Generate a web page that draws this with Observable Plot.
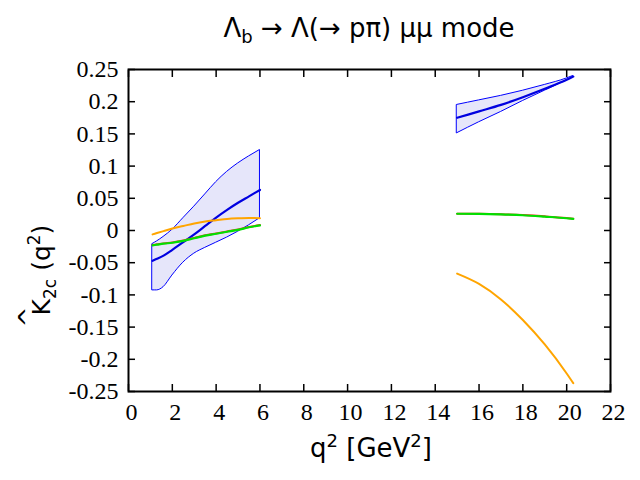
<!DOCTYPE html>
<html><head><meta charset="utf-8">
<script src="https://cdn.jsdelivr.net/npm/d3@7"></script>
<script src="https://cdn.jsdelivr.net/npm/@observablehq/plot@0.6"></script>
<style>body{margin:0;background:#fff}</style>
</head><body><div id="chart"></div>
<script>
// tick labels
const xTicks = [0, 2, 4, 6, 8, 10, 12, 14, 16, 18, 20, 22];
const yTicks = [-0.25, -0.2, -0.15, -0.1, -0.05, 0, 0.05, 0.1, 0.15, 0.2, 0.25];

// low q^2 bin
const xLow       = [1.1, 1.3, 1.6, 2, 2.5, 3, 3.5, 4, 4.5, 5, 5.5, 6];
const centralLow = [-0.047, -0.044, -0.039, -0.030, -0.018, -0.006, 0.007, 0.020, 0.032, 0.043, 0.053, 0.063];
const upperLow   = [-0.021, -0.017, -0.010, 0.001, 0.019, 0.037, 0.056, 0.075, 0.091, 0.104, 0.115, 0.125];
const lowerLow   = [-0.093, -0.093, -0.088, -0.070, -0.050, -0.036, -0.027, -0.019, -0.011, -0.002, 0.008, 0.019];
const orangeLow  = [-0.006, -0.004, -0.001, 0.003, 0.007, 0.011, 0.014, 0.016, 0.018, 0.019, 0.0195, 0.019];
const greenLow   = [-0.023, -0.022, -0.0205, -0.019, -0.016, -0.012, -0.008, -0.005, -0.002, 0.001, 0.005, 0.008];
const redLow     = [-0.0225, -0.0215, -0.020, -0.0185, -0.0155, -0.0115, -0.0075, -0.0045, -0.0015, 0.0015, 0.0055, 0.0085];

// high q^2 bin
const xHigh       = [15, 16, 17, 18, 19, 20, 20.3];
const centralHigh = [0.175, 0.185, 0.195, 0.207, 0.220, 0.234, 0.239];
const upperHigh   = [0.195, 0.202, 0.209, 0.217, 0.226, 0.236, 0.240];
const lowerHigh   = [0.151, 0.168, 0.184, 0.201, 0.217, 0.233, 0.238];
const orangeHigh  = [-0.067, -0.083, -0.107, -0.139, -0.177, -0.222, -0.237];
const greenHigh   = [0.026, 0.0258, 0.025, 0.0237, 0.0215, 0.0190, 0.018];
const redHigh     = [0.0262, 0.026, 0.0253, 0.024, 0.022, 0.0193, 0.0182];

const build = (xs, c, u, l, o, g, r) => xs.map((q, i) => ({q, c: c[i], hi: u[i], lo: l[i], o: o[i], g: g[i], r: r[i]}));
const low = build(xLow, centralLow, upperLow, lowerLow, orangeLow, greenLow, redLow);
const high = build(xHigh, centralHigh, upperHigh, lowerHigh, orangeHigh, greenHigh, redHigh);

const fmtY = d => String(+d.toFixed(2));
const curve = "monotone-x";
const serif = "Liberation Serif";
const sans = "DejaVu Sans";
const xMin = xTicks[0], yMin = yTicks[0];

const seriesMarks = data => [
  Plot.areaY(data, {x: "q", y1: "lo", y2: "hi", fill: "#e6e6fa", stroke: "#0000ff", strokeWidth: 1, curve}),
  Plot.lineY(data, {x: "q", y: "c", stroke: "#0000e0", strokeWidth: 2.2, curve}),
  Plot.lineY(data, {x: "q", y: "o", stroke: "#ffa500", strokeWidth: 2, curve}),
  Plot.lineY(data, {x: "q", y: "r", stroke: "#ff3030", strokeWidth: 2, curve}),
  Plot.lineY(data, {x: "q", y: "g", stroke: "#00e000", strokeWidth: 2.2, curve})
];

const chart = Plot.plot({
  width: 640,
  height: 480,
  marginLeft: 128,
  marginRight: 30,
  marginTop: 69,
  marginBottom: 89,
  x: {domain: [0, 22]},
  y: {domain: [-0.25, 0.25]},
  style: {background: "white"},
  marks: [
    ...seriesMarks(low),
    ...seriesMarks(high),
    // inward ticks on all four sides
    Plot.axisX(xTicks, {anchor: "bottom", tickSize: -7, tickFormat: () => "", label: null, strokeWidth: 1.5}),
    Plot.axisX(xTicks, {anchor: "top", tickSize: -7, tickFormat: () => "", label: null, strokeWidth: 1.5}),
    Plot.axisY(yTicks, {anchor: "left", tickSize: -7, tickFormat: () => "", label: null, strokeWidth: 1.5}),
    Plot.axisY(yTicks, {anchor: "right", tickSize: -7, tickFormat: () => "", label: null, strokeWidth: 1.5}),
    // serif tick labels placed through the scales
    Plot.text(xTicks, {x: d => d, y: () => yMin, text: d => String(d), dy: 21, dx: 3,
      fontFamily: serif, fontSize: 24, textAnchor: "middle", lineAnchor: "middle", fill: "black"}),
    Plot.text(yTicks, {x: () => xMin, y: d => d, text: fmtY, dx: -10,
      fontFamily: serif, fontSize: 24, textAnchor: "end", lineAnchor: "middle", fill: "black"}),
    Plot.frame({stroke: "black", strokeWidth: 2})
  ]
});

document.getElementById("chart").appendChild(chart);

const svg = d3.select(chart);

const mkText = (x, y, size, transform) => {
  const t = svg.append("text")
    .attr("text-anchor", "middle")
    .attr("font-family", sans).attr("font-size", size)
    .style("font-family", `"${sans}"`).style("font-size", size + "px")
    .attr("fill", "black");
  if (transform) t.attr("transform", transform); else t.attr("x", x).attr("y", y);
  return t;
};
const sub = (t, txt, size, dy) => t.append("tspan").attr("font-size", size).style("font-size", size + "px").attr("dy", dy).text(txt);

const title = mkText(369, 37, 26);
title.append("tspan").text("Λ");
sub(title, "b", 18, 6);
title.append("tspan").attr("dy", -6).text(" → Λ(→ pπ) μμ mode");

const xl = mkText(371, 457, 26);
xl.append("tspan").text("q");
sub(xl, "2", 18, -10);
xl.append("tspan").attr("dy", 10).text(" [GeV");
sub(xl, "2", 18, -10);
xl.append("tspan").attr("dy", 10).text("]");

const yl = mkText(0, 0, 25, "translate(50,270) rotate(-90)");
yl.append("tspan").text("K");
sub(yl, "2c", 17, 6);
yl.append("tspan").attr("dy", -6).text(" (q");
sub(yl, "2", 17, -10);
yl.append("tspan").attr("dy", 10).text(")");

mkText(0, 0, 25, "translate(36,317) rotate(-90)").text("^");
</script>
</body></html>
